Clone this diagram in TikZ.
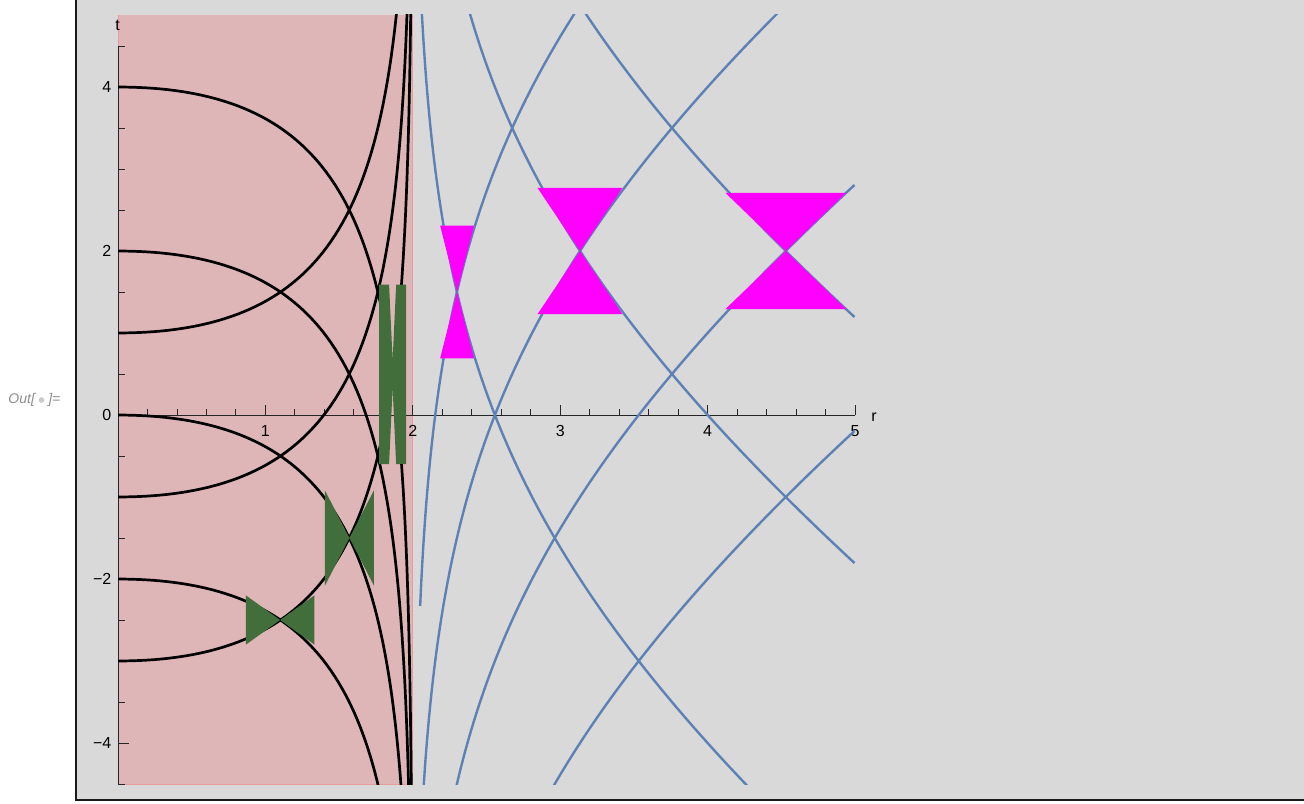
\documentclass[tikz,border=0pt]{standalone}
\usepackage{fontspec}
\setmainfont{Liberation Sans}
\usepackage{xcolor}
\usetikzlibrary{positioning}
\definecolor{nbgray}{HTML}{D9D9D9}
\definecolor{zonepink}{HTML}{DFB6B8}
\definecolor{zoneedge}{HTML}{E89A9C}
\definecolor{geoblue}{HTML}{5E81B5}
\definecolor{conegreen}{HTML}{426E3C}
\definecolor{conemag}{HTML}{FF00FF}
\definecolor{outgray}{HTML}{8C8C8C}
\definecolor{dotgray}{HTML}{CACACA}

\begin{document}
\begin{tikzpicture}[x=1bp, y=-1bp,
  ticklab/.style={font=\fontsize{16bp}{19bp}\selectfont, inner sep=0pt},
  outtxt/.style={font=\fontsize{14bp}{17bp}\selectfont\itshape, text=outgray, inner sep=0pt},
  insidecurve/.style={black, line width=2.7bp, line join=round},
  outsidecurve/.style={geoblue, line width=2.4bp, line join=round},
  axisline/.style={line width=0.9bp, black!85},
]
  \useasboundingbox (0,0) rectangle (1304,803);
  % notebook cell
  \fill[nbgray] (76.7,0) rectangle (1304,799);
  \draw[line width=2bp, black!90] (75.7,0) -- (75.7,800) -- (1304,800);

  % Out label
  \node[outtxt, anchor=west] (out1) at (8.3,400) {Out[};
  \node[circle, fill=dotgray, inner sep=0pt, minimum size=5.6bp, right=3.3bp of out1] (outdot) {};
  \node[outtxt, right=3.6bp of outdot] (out2) {]=};

  \begin{scope}[shift={(118,415)}, x=147.4bp, y=82bp]
    % region r < 2
    \fill[zonepink] (0,-4.5) rectangle (2,4.88);
    \draw[zoneedge, line width=1bp] (0,4.88) -- (0,-4.5) -- (2,-4.5) -- (2,4.88);

    % axes
    \draw[axisline] (0,0) -- (5,0);
    \draw[axisline] (0,-4.5) -- (0,4.5);
    \foreach \k in {1,...,25}
      \draw[axisline] (\k*0.2,0) -- ++(0,6bp);
    \foreach \k in {1,...,5} {
      \draw[axisline] (\k,0) -- ++(0,10bp);
      \node[ticklab, anchor=north, yshift=-10.5bp] (rlab\k) at (\k,0) {\k};
    }
    \foreach \k in {-9,...,9}
      \draw[axisline] (0,\k*0.5) -- ++(6.5bp,0);
    \foreach \t/\lab in {-4/−4,-2/−2,0/0,2/2,4/4} {
      \draw[axisline] (0,\t) -- ++(10.5bp,0);
      \node[ticklab, anchor=east, xshift=-6.5bp] (tlab\t) at (0,\t) {\lab};
    }
    \node[ticklab, anchor=base, xshift=19bp, yshift=-6.7bp] (rname) at (5,0) {r};
    \node[ticklab, anchor=base, xshift=-0.5bp, yshift=15.3bp] (tname) at (0,4.5) {t};

    % null curves
    \begin{scope}
      \clip (-0.05,-4.5) rectangle (5.1,4.88);
      % inside the horizon
      \foreach \c in {4,2,0,-2}
        \draw[insidecurve] plot[domain=-6.2:0, samples=240, variable=\s]
          ({2-2*exp(\s)}, {\c+2-2*exp(\s)+2*\s});
      \foreach \c in {1,-1,-3}
        \draw[insidecurve] plot[domain=-6.2:0, samples=240, variable=\s]
          ({2-2*exp(\s)}, {\c-(2-2*exp(\s)+2*\s)});
      % outside the horizon
      \foreach \a in {3,0,-3,-6}
        \draw[outsidecurve] plot[domain=-3.6889:0.4055, samples=200, variable=\s]
          ({2+2*exp(\s)}, {\a+2+2*exp(\s)+2*\s});
      \foreach \b in {0,4,7}
        \draw[outsidecurve] plot[domain=-3.6889:0.4055, samples=200, variable=\s]
          ({2+2*exp(\s)}, {\b-(2+2*exp(\s)+2*\s)});
    \end{scope}

    % light cones outside
    \foreach \r/\t/\w/\h in {2.30/1.5/0.115/0.81, 3.134/2/0.288/0.77, 4.53/2/0.41/0.71}
      \fill[conemag] (\r-\w,\t+\h) -- (\r+\w,\t+\h) -- (\r,\t) -- cycle
                     (\r-\w,\t-\h) -- (\r+\w,\t-\h) -- (\r,\t) -- cycle;

    % light cones inside
    \foreach \r/\t/\w/\h in {1.10/-2.5/0.232/0.30, 1.57/-1.5/0.166/0.58}
      \fill[conegreen] (\r-\w,\t+\h) -- (\r-\w,\t-\h) -- (\r,\t) -- cycle
                       (\r+\w,\t+\h) -- (\r+\w,\t-\h) -- (\r,\t) -- cycle;
    \fill[conegreen] (1.771,1.59) -- (1.839,1.59) -- (1.863,0.67) -- (1.887,1.59)
      -- (1.954,1.59) -- (1.954,-0.60) -- (1.887,-0.60) -- (1.863,0.33)
      -- (1.839,-0.60) -- (1.771,-0.60) -- cycle;
  \end{scope}
\end{tikzpicture}
\end{document}
